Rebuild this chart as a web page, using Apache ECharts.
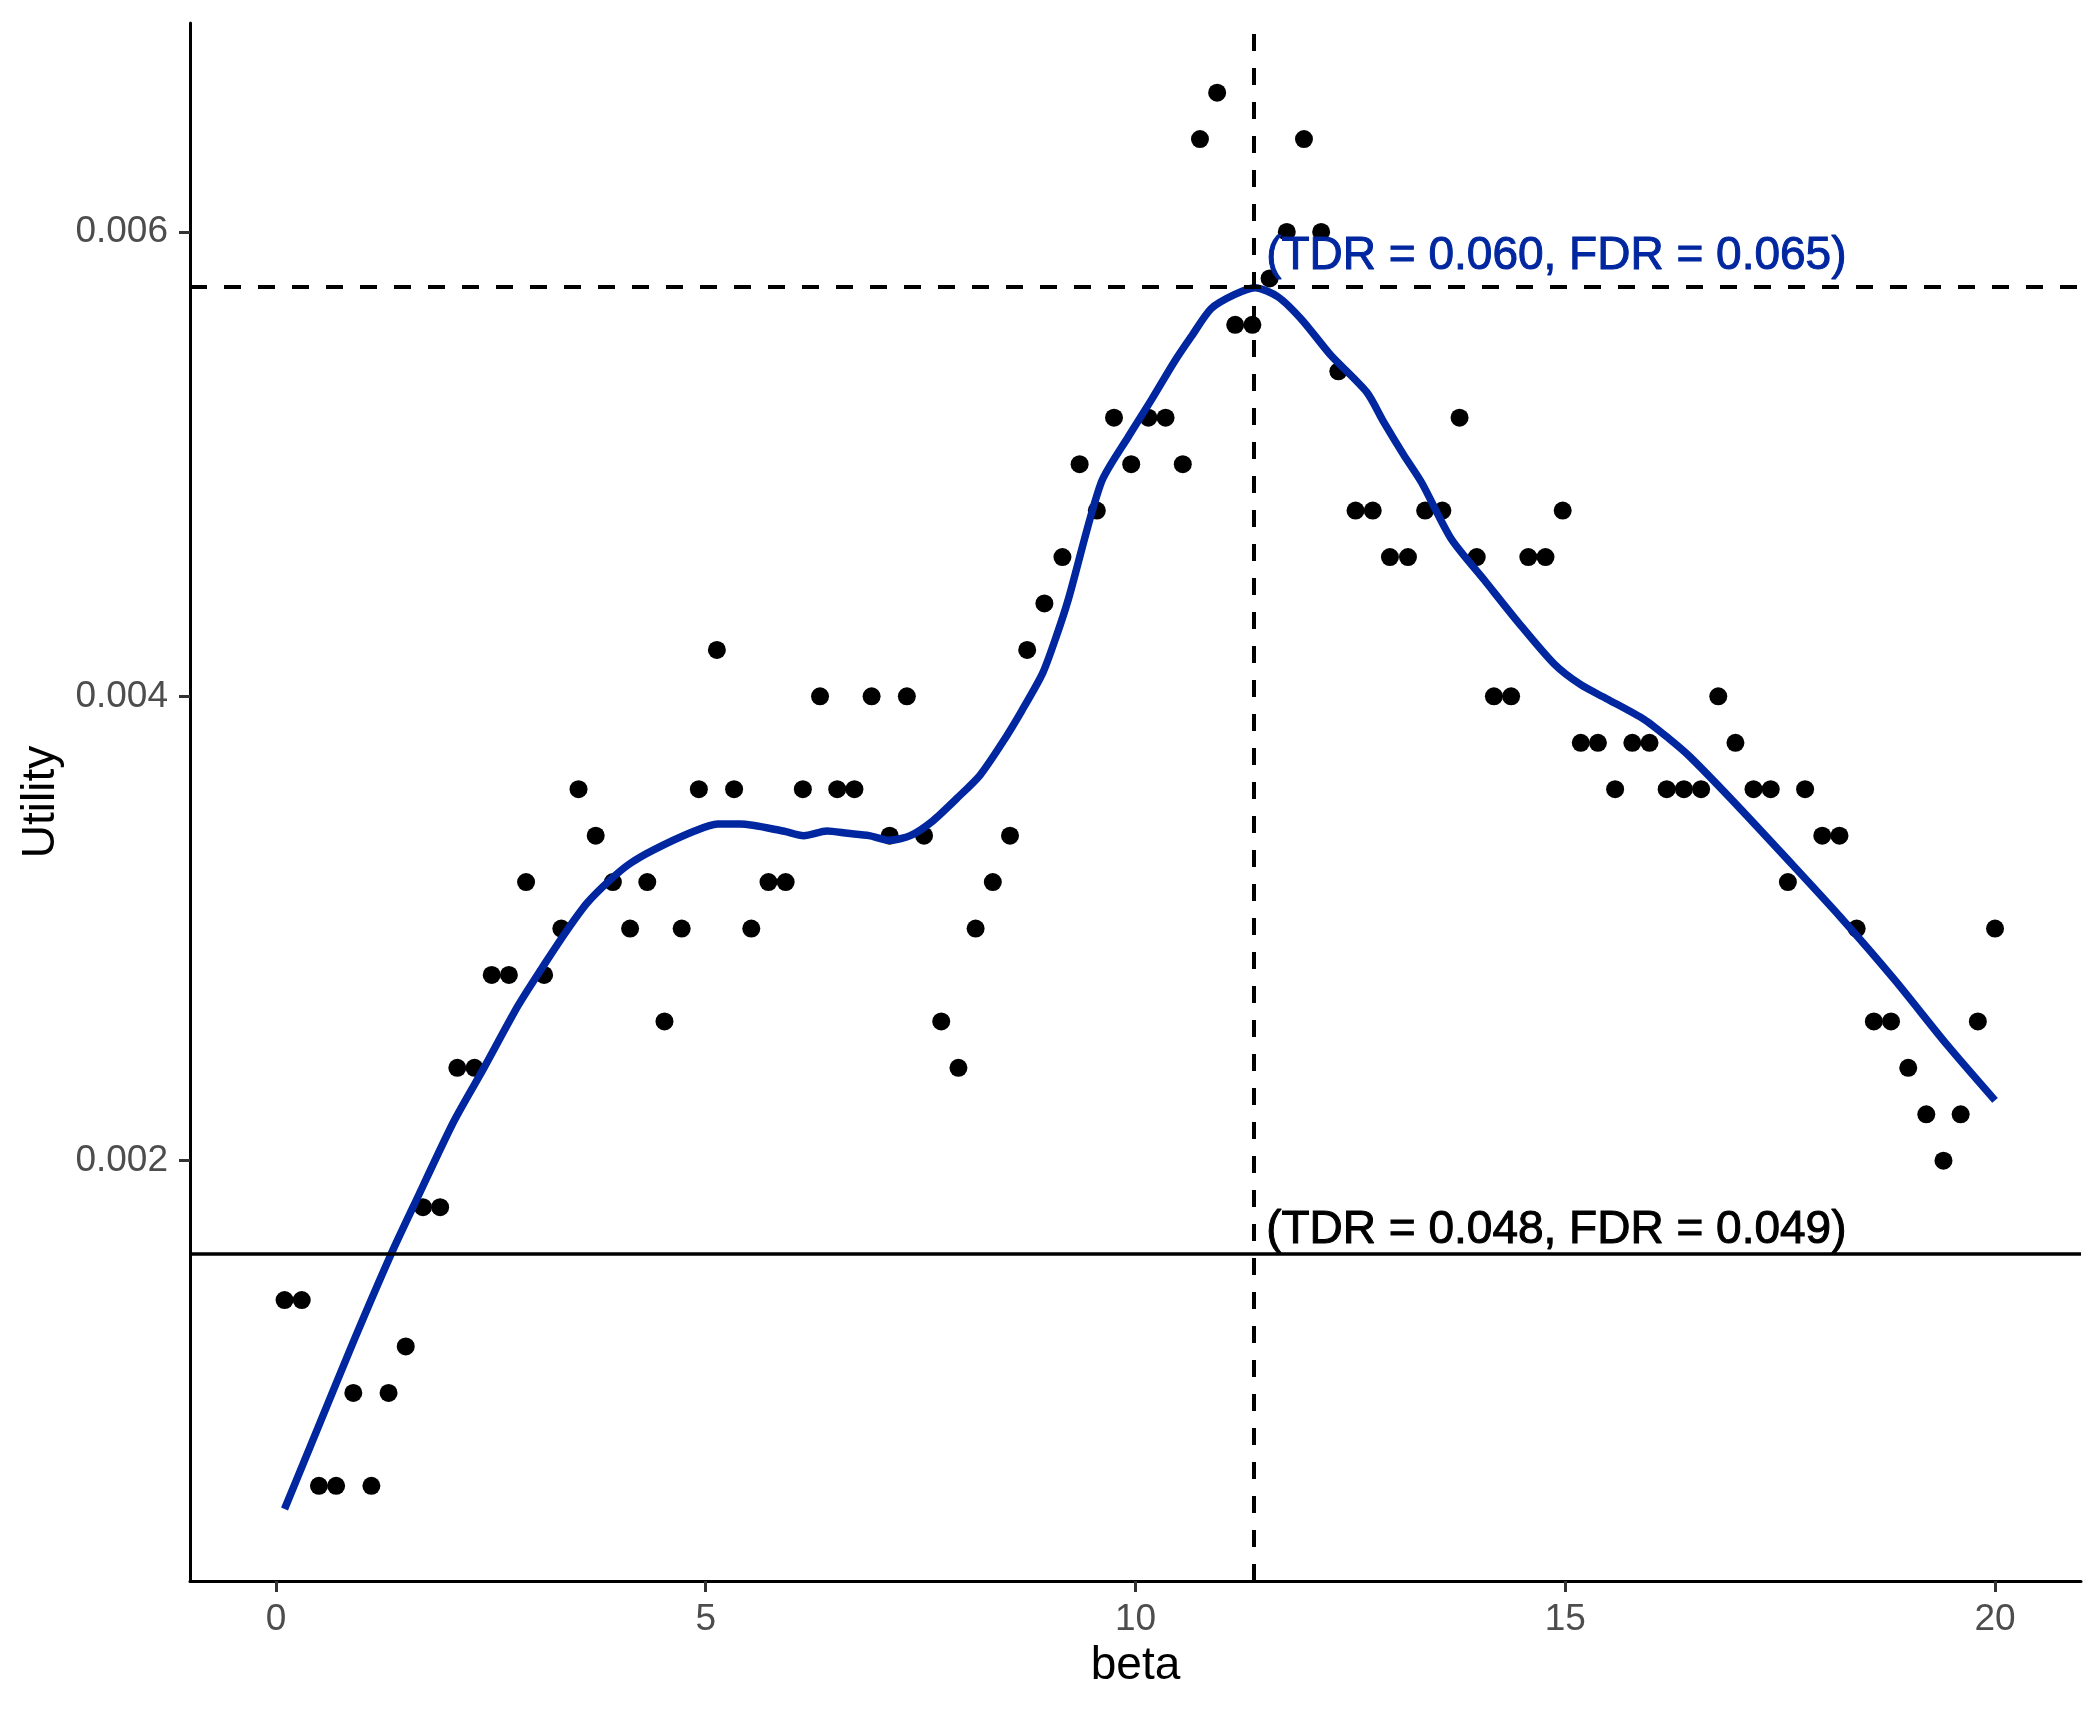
<!DOCTYPE html>
<html>
<head>
<meta charset="utf-8">
<script src="https://cdn.jsdelivr.net/npm/echarts@6/dist/echarts.min.js"></script>
<style>
  html, body { margin: 0; padding: 0; background: #fff; }
  #main { width: 2099px; height: 1713px; }
</style>
</head>
<body>
<div id="main"></div>
<script>
// beta grid of the simulation
const beta = [
  0.10, 0.30, 0.50, 0.70, 0.90, 1.11, 1.31, 1.51, 1.71, 1.91,
  2.11, 2.31, 2.51, 2.71, 2.91, 3.12, 3.32, 3.52, 3.72, 3.92,
  4.12, 4.32, 4.52, 4.72, 4.92, 5.13, 5.33, 5.53, 5.73, 5.93,
  6.13, 6.33, 6.53, 6.73, 6.93, 7.14, 7.34, 7.54, 7.74, 7.94,
  8.14, 8.34, 8.54, 8.74, 8.94, 9.15, 9.35, 9.55, 9.75, 9.95,
  10.15, 10.35, 10.55, 10.75, 10.95, 11.16, 11.36, 11.56, 11.76, 11.96,
  12.16, 12.36, 12.56, 12.76, 12.96, 13.17, 13.37, 13.57, 13.77, 13.97,
  14.17, 14.37, 14.57, 14.77, 14.97, 15.18, 15.38, 15.58, 15.78, 15.98,
  16.18, 16.38, 16.58, 16.78, 16.98, 17.19, 17.39, 17.59, 17.79, 17.99,
  18.19, 18.39, 18.59, 18.79, 18.99, 19.20, 19.40, 19.60, 19.80, 20.00
]
const utility = [
  0.0014, 0.0014, 0.0006, 0.0006, 0.0010, 0.0006, 0.0010, 0.0012, 0.0018, 0.0018,
  0.0024, 0.0024, 0.0028, 0.0028, 0.0032, 0.0028, 0.0030, 0.0036, 0.0034, 0.0032,
  0.0030, 0.0032, 0.0026, 0.0030, 0.0036, 0.0042, 0.0036, 0.0030, 0.0032, 0.0032,
  0.0036, 0.0040, 0.0036, 0.0036, 0.0040, 0.0034, 0.0040, 0.0034, 0.0026, 0.0024,
  0.0030, 0.0032, 0.0034, 0.0042, 0.0044, 0.0046, 0.0050, 0.0048, 0.0052, 0.0050,
  0.0052, 0.0052, 0.0050, 0.0064, 0.0066, 0.0056, 0.0056, 0.0058, 0.0060, 0.0064,
  0.0060, 0.0054, 0.0048, 0.0048, 0.0046, 0.0046, 0.0048, 0.0048, 0.0052, 0.0046,
  0.0040, 0.0040, 0.0046, 0.0046, 0.0048, 0.0038, 0.0038, 0.0036, 0.0038, 0.0038,
  0.0036, 0.0036, 0.0036, 0.0040, 0.0038, 0.0036, 0.0036, 0.0032, 0.0036, 0.0034,
  0.0034, 0.0030, 0.0026, 0.0026, 0.0024, 0.0022, 0.0020, 0.0022, 0.0026, 0.0030
]
// loess fit
const smoothBeta = [
  0.10, 0.50, 0.90, 1.33, 1.62, 2.07, 2.42, 2.82, 3.13, 3.40,
  3.62, 3.89, 4.12, 4.40, 4.87, 5.14, 5.40, 5.90, 6.14, 6.41,
  6.65, 6.90, 7.14, 7.38, 7.63, 7.92, 8.19, 8.45, 8.68, 8.92,
  9.08, 9.22, 9.60, 9.92, 10.19, 10.45, 10.65, 10.88, 11.15, 11.39,
  11.66, 11.94, 12.27, 12.69, 12.89, 13.12, 13.33, 13.67, 14.06, 14.45,
  14.87, 15.18, 15.48, 15.92, 16.20, 16.45, 16.95, 17.58, 18.20, 18.83,
  19.44, 20.00
]
const smoothUtility = [
  0.00050, 0.00086, 0.00122, 0.00159, 0.00182, 0.00217, 0.00240, 0.00267, 0.00285, 0.00300,
  0.00311, 0.00321, 0.00328, 0.00334, 0.00342, 0.00345, 0.00345, 0.00342, 0.00340, 0.00342,
  0.00341, 0.00340, 0.00338, 0.00340, 0.00346, 0.00356, 0.00366, 0.00380, 0.00394, 0.00410,
  0.00426, 0.00442, 0.00492, 0.00512, 0.00528, 0.00544, 0.00555, 0.00567, 0.00573, 0.00576,
  0.00572, 0.00562, 0.00547, 0.00531, 0.00518, 0.00504, 0.00492, 0.00468, 0.00450, 0.00432,
  0.00414, 0.00405, 0.00399, 0.00390, 0.00382, 0.00374, 0.00355, 0.00330, 0.00305, 0.00278,
  0.00250, 0.00226
]
const bestBeta = 11.38
const bestUtility = 0.005764
const baseUtility = 0.0016
const xMin = -1
const xMax = 21
const yMin = 0.00019
const yMax = 0.0069
const xTicks = [0, 5, 10, 15, 20]
const yTicks = [0.002, 0.004, 0.006]
const bestLabel = '(TDR = 0.060, FDR = 0.065)'
const baseLabel = '(TDR = 0.048, FDR = 0.049)'

const font = "'Liberation Sans', Arial, sans-serif"
const blue = '#0027a0'

const chartDom = document.getElementById('main')
const myChart = echarts.init(chartDom)

const annotation = (coord, text, color) => ({
  coord: coord,
  label: {
    show: true,
    formatter: text,
    position: 'inside',
    align: 'left',
    verticalAlign: 'middle',
    fontSize: 46,
    fontFamily: font,
    color: color,
    textBorderColor: color,
    textBorderWidth: 1
  }
})

// straight reference line between two data coords
const refLine = (from, to, style) => [
  { coord: from, lineStyle: style },
  { coord: to }
]
const dashed = { color: '#000', width: 4, type: [17, 17] }
const solid = { color: '#000', width: 3.5, type: 'solid' }

const option = {
  animation: false,
  backgroundColor: '#ffffff',
  textStyle: { fontFamily: font },
  grid: { left: 190, right: 18, top: 23, bottom: 132 },
  xAxis: {
    type: 'value',
    min: xMin,
    max: xMax,
    name: 'beta',
    nameLocation: 'middle',
    nameGap: 62,
    nameTextStyle: { color: '#000', fontSize: 46, fontFamily: font },
    splitLine: { show: false },
    axisLine: { onZero: false, lineStyle: { color: '#000', width: 3 } },
    axisTick: { customValues: xTicks, length: 11, lineStyle: { color: '#333', width: 3 } },
    axisLabel: {
      customValues: xTicks,
      margin: 20,
      fontSize: 37,
      color: '#4d4d4d',
      fontFamily: font
    }
  },
  yAxis: {
    type: 'value',
    min: yMin,
    max: yMax,
    name: 'Utility',
    nameLocation: 'middle',
    nameRotate: 90,
    nameGap: 124,
    nameTextStyle: { color: '#000', fontSize: 46, fontFamily: font },
    splitLine: { show: false },
    axisLine: { onZero: false, lineStyle: { color: '#000', width: 3 } },
    axisTick: { customValues: yTicks, length: 11, lineStyle: { color: '#333', width: 3 } },
    axisLabel: {
      customValues: yTicks,
      margin: 22,
      fontSize: 37,
      color: '#4d4d4d',
      fontFamily: font,
      formatter: (v) => v.toFixed(3)
    }
  },
  series: [
    {
      name: 'points',
      type: 'scatter',
      z: 2,
      symbol: 'circle',
      symbolSize: 18,
      itemStyle: { color: '#000', opacity: 1 },
      silent: true,
      data: beta.map((b, i) => [b, utility[i]])
    },
    {
      name: 'loess',
      type: 'line',
      z: 3,
      showSymbol: false,
      smooth: 0.25,
      silent: true,
      lineStyle: { color: blue, width: 7.5 },
      data: smoothBeta.map((b, i) => [b, smoothUtility[i]]),
      markLine: {
        silent: true,
        symbol: ['none', 'none'],
        label: { show: false },
        animation: false,
        emphasis: { disabled: true },
        data: [
          refLine([bestBeta, yMin], [bestBeta, yMax], dashed),
          refLine([xMin, bestUtility], [xMax, bestUtility], dashed),
          refLine([xMin, baseUtility], [xMax, baseUtility], solid)
        ]
      },
      markPoint: {
        silent: true,
        symbol: 'circle',
        symbolSize: 0,
        animation: false,
        data: [
          annotation([11.52, 0.005895], bestLabel, blue),
          annotation([11.52, 0.001701], baseLabel, '#000')
        ]
      }
    }
  ]
}

option && myChart.setOption(option)
</script>
</body>
</html>
